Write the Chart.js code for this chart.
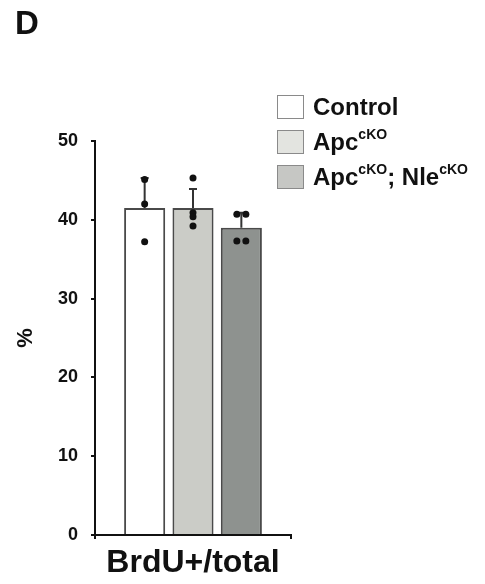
<!DOCTYPE html>
<html>
<head>
<meta charset="utf-8">
<script src="https://cdn.jsdelivr.net/npm/chart.js@4"></script>
<style>
  body { margin: 0; background: #fff; font-family: "Liberation Sans", Arial, sans-serif; }
  #wrap { position: relative; width: 485px; height: 584px; }
  #panel { position: absolute; left: 15px; top: 6px; font-size: 33px; line-height: 33px; font-weight: bold; color: #111; }
  #legend { position: absolute; left: 277px; top: 95px; }
  .row { display: flex; align-items: center; height: 24px; margin-bottom: 11px; font-size: 24px; line-height: 24px; font-weight: bold; color: #111; }
  .box { width: 25px; height: 22px; border: 1px solid #8a8a8a; margin-right: 9px; }
  .row sup { font-size: 14px; line-height: 0; position: relative; top: -2px; }
</style>
</head>
<body>
<div id="wrap">
  <canvas id="myChart" width="485" height="584"></canvas>
  <div id="panel">D</div>
  <div id="legend"></div>
</div>
<script>
// groups (x axis) and series
const categories = ['BrdU+/total'];
const seriesNames = [['Control'], ['Apc', 'cKO'], ['Apc', 'cKO', '; Nle', 'cKO']];
const meanValues = [41.5, 41.5, 39.0];
const errorTops = [45.3, 43.9, 40.9];
const dotValues = [
    [45.1, 42.0, 37.2],
    [45.3, 40.9, 40.4, 39.2],
    [40.7, 40.7, 37.3, 37.3]
];
const yTicks = [0, 10, 20, 30, 40, 50];

const barColors = ['#ffffff', '#cbccc7', '#8e928f'];
const legendColors = ['#ffffff', '#e3e4e0', '#c6c7c4'];

// legend with superscripts
const legend = document.getElementById('legend');
seriesNames.forEach(function(parts, i) {
    const row = document.createElement('div');
    row.className = 'row';
    const box = document.createElement('div');
    box.className = 'box';
    box.style.background = legendColors[i];
    row.appendChild(box);
    const txt = document.createElement('span');
    parts.forEach(function(p, j) {
        if (j % 2 === 1) {
            const s = document.createElement('sup');
            s.textContent = p;
            txt.appendChild(s);
        } else {
            txt.appendChild(document.createTextNode(p));
        }
    });
    row.appendChild(txt);
    legend.appendChild(row);
});

// error bars + individual points
const errorDots = {
    id: 'errorDots',
    afterDatasetsDraw(chart) {
        const ctx = chart.ctx;
        const y = chart.scales.y;
        chart.data.datasets.forEach(function(ds, i) {
            const bar = chart.getDatasetMeta(i).data[0];
            const cx = bar.x;
            ctx.save();
            ctx.strokeStyle = '#333';
            ctx.lineWidth = 2;
            ctx.beginPath();
            ctx.moveTo(cx, y.getPixelForValue(meanValues[i]));
            ctx.lineTo(cx, y.getPixelForValue(errorTops[i]));
            ctx.moveTo(cx - 4, y.getPixelForValue(errorTops[i]));
            ctx.lineTo(cx + 4, y.getPixelForValue(errorTops[i]));
            ctx.stroke();
            ctx.fillStyle = '#111';
            const vals = dotValues[i];
            vals.forEach(function(v, k) {
                // spread identical values side by side
                const same = vals.filter(function(w) { return Math.abs(w - v) < 0.05; });
                let dx = 0;
                if (same.length > 1) {
                    const idx = vals.slice(0, k).filter(function(w) { return Math.abs(w - v) < 0.05; }).length;
                    dx = (idx - (same.length - 1) / 2) * 9;
                }
                ctx.beginPath();
                ctx.arc(cx + dx, y.getPixelForValue(v), 3.5, 0, Math.PI * 2);
                ctx.fill();
            });
            ctx.restore();
        });
    }
};

const axisFont = { family: '"Liberation Sans", Arial, sans-serif', weight: 'bold' };

const newChart = document.getElementById('myChart').getContext('2d');
const myChart = new Chart(newChart, {
    type: 'bar',
    data: {
        labels: categories,
        datasets: seriesNames.map(function(parts, i) {
            return {
                label: parts.join(''),
                data: [meanValues[i]],
                backgroundColor: barColors[i],
                borderColor: '#4a4a4a',
                borderWidth: 2,
                categoryPercentage: 0.74,
                barPercentage: 0.85
            };
        })
    },
    options: {
        responsive: false,
        animation: false,
        layout: { padding: { left: 10, top: 141, right: 194, bottom: 0 } },
        plugins: {
            legend: { display: false },
            tooltip: { enabled: false }
        },
        scales: {
            x: {
                grid: { drawOnChartArea: false, tickLength: 4, color: '#111', lineWidth: 2, offset: true },
                border: { color: '#111', width: 2 },
                ticks: { color: '#111', padding: 5, font: Object.assign({ size: 32 }, axisFont) },
                afterFit: function(scale) { scale.height = 49; }
            },
            y: {
                min: 0,
                max: 50,
                afterBuildTicks: function(scale) {
                    scale.ticks = yTicks.map(function(v) { return { value: v }; });
                },
                grid: { drawOnChartArea: false, tickLength: 4, color: '#111', lineWidth: 2 },
                border: { color: '#111', width: 2 },
                ticks: { color: '#111', padding: 13, font: Object.assign({ size: 18 }, axisFont) },
                title: {
                    display: true,
                    text: '%',
                    color: '#111',
                    padding: { top: 3, bottom: 0 },
                    font: Object.assign({ size: 22 }, axisFont)
                },
                afterFit: function(scale) { scale.width = 85; }
            }
        }
    },
    plugins: [errorDots]
});
</script>
</body>
</html>
